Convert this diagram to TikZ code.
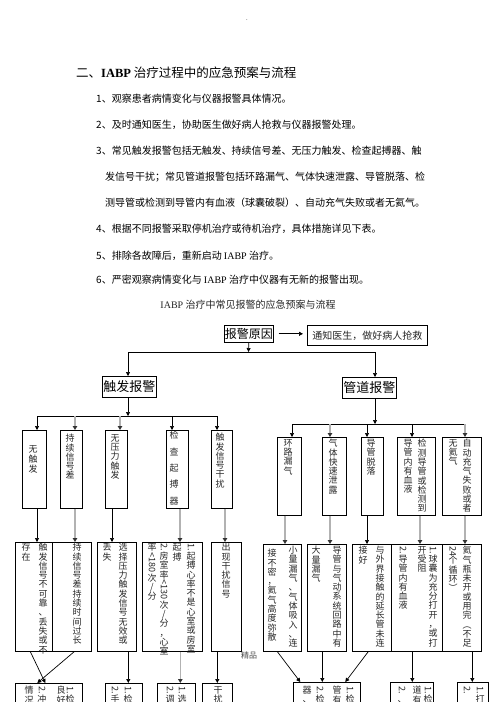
\documentclass[tikz,border=0pt]{standalone}
\usepackage{fontspec}
\setmainfont{Noto Sans CJK SC}
\newfontfamily\lat{Liberation Serif}
\usepackage{graphicx}
\usetikzlibrary{arrows.meta}

% one character per line, for the upright columns
\makeatletter
\def\vc@end{\vc@end}
\def\vc@endm{\vc@end}
\newcommand\vcol[1]{\vc@first#1\vc@end}
\def\vc@first#1{#1\vc@loop}
\def\vc@loop#1{\def\vc@tmp{#1}\ifx\vc@tmp\vc@endm\expandafter\@gobble\else\expandafter\@firstofone\fi{\\#1\vc@loop}}
\makeatother
\newcommand\rt[1]{\rotatebox[origin=c]{-90}{#1}}

\begin{document}
\begin{tikzpicture}[
  x=1pt, y=-1pt,
  sz/.style 2 args={minimum width=#1, minimum height=#2},
  box/.style={draw, line width=0.6pt, inner sep=0pt, anchor=north west},
  vt/.style={font=\fontsize{9}{9.3}\selectfont, align=center, inner sep=0pt, anchor=north, text=black!85},
  txt/.style={font=\fontsize{10}{12}\selectfont, anchor=west, inner sep=0pt},
  arr/.style={-{Triangle[length=4pt, width=4pt]}, line width=0.7pt},
  garr/.style={-{Triangle[length=4pt, width=4.5pt, color=black!80]}, line width=1.6pt, gray!60}
]
\useasboundingbox (0,0) rectangle (496,702);
\clip (0,0) rectangle (496,702);

% page text
\node[font=\fontsize{6}{6}\selectfont, inner sep=0pt] (dot) at (247,20) {.};
\node[font=\fontsize{12.5}{14}\selectfont, anchor=west, inner sep=0pt] (head) at (76,73) {二、{\lat\bfseries IABP} 治疗过程中的应急预案与流程};
\node[txt] (it1) at (96,99) {1、观察患者病情变化与仪器报警具体情况。};
\node[txt] (it2) at (96,125) {2、及时通知医生，协助医生做好病人抢救与仪器报警处理。};
\node[txt] (it3) at (96,151) {3、常见触发报警包括无触发、持续信号差、无压力触发、检查起搏器、触};
\node[txt] (it3b) at (105,177) {发信号干扰；常见管道报警包括环路漏气、气体快速泄露、导管脱落、检};
\node[txt] (it3c) at (105,203) {测导管或检测到导管内有血液（球囊破裂）、自动充气失败或者无氦气。};
\node[txt] (it4) at (96,229) {4、根据不同报警采取停机治疗或待机治疗，具体措施详见下表。};
\node[txt] (it5) at (96,256) {5、排除各故障后，重新启动 {\lat IABP} 治疗。};
\node[txt] (it6) at (96,280) {6、严密观察病情变化与 {\lat IABP} 治疗中仪器有无新的报警出现。};
\node[font=\fontsize{10}{12}\selectfont, inner sep=0pt, text=black!85] (cap) at (248,305) {{\lat IABP} 治疗中常见报警的应急预案与流程};

% head of the chart
\node[box, sz={49}{17}, font=\fontsize{12}{12}\selectfont] (cause) at (224,325) {报警原因};
\node[box, sz={120}{20}, font=\fontsize{10}{10}\selectfont, text=black!85] (notify) at (307,325) {通知医生，做好病人抢救};
\draw[arr, shorten <=5pt, shorten >=4pt] (cause.east) -- (cause.east -| notify.west);

\node[box, sz={54}{21}, font=\fontsize{13}{13}\selectfont] (trig) at (102,376) {触发报警};
\node[box, sz={54}{21}, font=\fontsize{13}{13}\selectfont] (pipe) at (342,377) {管道报警};

\coordinate (bus0) at (248.5,352);
\coordinate (busL) at (128,352);
\coordinate (busR) at (375,352);
\draw[arr] (cause.south) -- (bus0);
\draw[line width=0.7pt] (busL) -- (busR);
\draw[arr] (busL) -- (busL |- trig.north);
\draw[arr] (busR) -- (busR |- pipe.north);

% trigger alarms
\coordinate (lb) at (128,416);
\coordinate (lb1) at (37,416);
\coordinate (lb2) at (75,416);
\coordinate (lb3) at (120,416);
\coordinate (lb4) at (172,416);
\coordinate (lb5) at (217,416);
\draw[arr] (trig.south -| lb) -- (lb);
\draw[line width=0.7pt] (lb1) -- (lb5);

\node[box, sz={24}{78}] (nt) at (22,430) {};
\node[box, sz={22}{78}] (cx) at (60,430) {};
\node[box, sz={22}{78}] (yl) at (105,430) {};
\node[box, sz={22}{78}] (qb) at (166,430) {};
\node[box, sz={21}{78}] (gr) at (211,430) {};
\draw[arr] (lb1) -- (lb1 |- nt.north);
\draw[garr] (lb2) -- (lb2 |- cx.north);
\draw[garr] (lb3) -- (lb3 |- yl.north);
\draw[arr] (lb4) -- (lb4 |- qb.north);
\draw[arr] (lb5) -- (lb5 |- gr.north);

\node[vt, font=\fontsize{9}{10}\selectfont] (nt-t) at (33,445) {\vcol{无触发}};
\node[vt] (cx-t) at (70,434) {\vcol{持续信号差}};
\node[vt] (yl-t) at (115,434) {\vcol{无压力触发}};
\node[vt, font=\fontsize{9}{16.3}\selectfont] (qb-t) at (174,431) {\vcol{检查起搏器}};
\node[vt] (gr-t) at (220,433) {\vcol{触发信号干扰}};

% pipeline alarms
\coordinate (rb) at (375,424);
\coordinate (rb1) at (292,424);
\coordinate (rb2) at (330,424);
\coordinate (rb3) at (367,424);
\coordinate (rb4) at (412,424);
\coordinate (rb5) at (465,424);
\draw[arr] (pipe.south -| rb) -- (rb);
\draw[line width=0.7pt] (rb1) -- (rb5);

\node[box, sz={24}{78}] (hl) at (277,437) {};
\node[box, sz={24}{78}] (xl) at (322,437) {};
\node[box, sz={22}{78}] (tl) at (361,437) {};
\node[box, sz={38}{78}] (xy) at (397,437) {};
\node[box, sz={39}{78}] (cq) at (442,437) {};
\draw[arr] (rb1) -- (rb1 |- hl.north);
\draw[garr] (rb2) -- (rb2 |- xl.north);
\draw[arr] (rb3) -- (rb3 |- tl.north);
\draw[arr] (rb4) -- (rb4 |- xy.north);
\draw[garr] (rb5) -- (rb5 |- cq.north);

\node[vt] (hl-t) at (288,439) {\vcol{环路漏气}};
\node[vt] (xl-t) at (333,439) {\vcol{气体快速泄露}};
\node[vt] (tl-t) at (371,439) {\vcol{导管脱落}};
\node[vt] (xy-t1) at (422,439) {\vcol{检测导管或检测到}};
\node[vt] (xy-t2) at (408,439) {\vcol{导管内有血液}};
\node[vt] (cq-t1) at (467,439) {\vcol{自动充气失败或者}};
\node[vt] (cq-t2) at (453,439) {\vcol{无氦气}};

% causes, left
\node[box, sz={37}{109}] (d1) at (15,542) {};
\node[box, sz={39}{109}] (d2) at (52,542) {};
\node[box, sz={39}{109}] (d3) at (97,542) {};
\node[box, sz={60}{109}] (d4) at (142,542) {};
\node[box, sz={30}{109}] (d5) at (211,542) {};
\coordinate (k1) at (37,520);
\coordinate (k2) at (75,520);
\coordinate (k3) at (112,520);
\coordinate (k4) at (180,520);
\coordinate (k5) at (225,520);
\draw[arr] (nt.south -| k1) -- (d1.north -| k1);
\draw[garr] (cx.south -| k2) -- (d2.north -| k2);
\draw[arr] (yl.south -| k3) -- (d3.north -| k3);
\draw[garr] (qb.south -| k4) -- (d4.north -| k4);
\draw[garr] (gr.south -| k5) -- (d5.north -| k5);

\node[vt] (d1-t1) at (43,543) {\vcol{触发信号不可靠、丢失或不}};
\node[vt] (d1-t2) at (26,543) {\vcol{存在}};
\node[vt] (d2-t) at (77,543) {\vcol{持续信号差持续时间过长}};
\node[vt] (d3-t1) at (123,543) {\vcol{选择压力触发信号无效或}};
\node[vt] (d3-t2) at (107,543) {\vcol{丢失}};
\node[vt] (d4-t1) at (191,543) {\vcol{{\rt{1.}}起搏心率不是心室或房室}};
\node[vt] (d4-t2) at (177,543) {\vcol{起搏}};
\node[vt] (d4-t3) at (164,543) {\vcol{{\rt{2.}}房室率{\rt{<130}}次/分，心室}};
\node[vt] (d4-t4) at (152,543) {\vcol{率{\rt{<180}}次/分}};
\node[vt] (d5-t) at (226,543) {\vcol{出现干扰信号}};

\node[font=\fontsize{8}{8}\selectfont, text=black!70, inner sep=0pt] (jp) at (249,655) {精品};

% causes, right
\node[box, sz={38}{107}] (e1) at (263,544) {};
\node[box, sz={39}{107}] (e2) at (307,544) {};
\node[box, sz={39}{107}] (e3) at (352,544) {};
\node[box, sz={51}{107}] (e4) at (391,544) {};
\node[box, sz={39}{107}] (e5) at (442,544) {};
\coordinate (j1) at (285,530);
\coordinate (j2) at (330,530);
\coordinate (j3) at (367,530);
\coordinate (j4) at (420,530);
\coordinate (j5) at (465,530);
\draw[garr] (hl.south -| j1) -- (e1.north -| j1);
\draw[garr] (xl.south -| j2) -- (e2.north -| j2);
\draw[arr] (tl.south -| j3) -- (e3.north -| j3);
\draw[garr] (xy.south -| j4) -- (e4.north -| j4);
\draw[garr] (cq.south -| j5) -- (e5.north -| j5);

\node[vt] (e1-t1) at (293,546) {\vcol{小量漏气、气体吸入、连}};
\node[vt] (e1-t2) at (272,549) {\vcol{接不密，氦气高度弥散}};
\node[vt] (e2-t1) at (337,546) {\vcol{导管与气动系统回路中有}};
\node[vt] (e2-t2) at (316,546) {\vcol{大量漏气}};
\node[vt] (e3-t1) at (380,546) {\vcol{与外界接触的延长管未连}};
\node[vt] (e3-t2) at (363,546) {\vcol{接好}};
\node[vt] (e4-t1) at (433,546) {\vcol{{\rt{1.}}球囊为充分打开，或打}};
\node[vt] (e4-t2) at (422,546) {\vcol{开受阻}};
\node[vt] (e4-t3) at (403,546) {\vcol{{\rt{2.}}导管内有血液}};
\node[vt] (e5-t1) at (467,546) {\vcol{氦气瓶未开或用完︵不足}};
\node[vt] (e5-t2) at (453,546) {\vcol{{\rt{24}}个循环︶}};

% measures (cut by the page edge)
\node[box, sz={67}{40}] (f1) at (15,683) {};
\node[box, sz={37}{40}] (f2) at (105,683) {};
\node[box, sz={38}{40}] (f3) at (157,683) {};
\node[box, sz={30}{40}] (f4) at (202,683) {};
\node[box, sz={67}{40}] (g1) at (293,682) {};
\node[box, sz={43}{40}] (g2) at (390,682) {};
\node[box, sz={31}{40}] (g3) at (457,682) {};

\draw[arr] ([xshift=-3.5pt]d1.south) -- ([xshift=-3.5pt]f1.north);
\draw[arr] ([xshift=2.5pt]d2.south) -- ([xshift=-11.5pt]f1.north);
\draw[arr] ([xshift=11.5pt]d3.south) -- ([xshift=4.5pt]f2.north);
\draw[garr] ([xshift=8pt]d4.south) -- ([xshift=4pt]f3.north);
\draw[arr] ([xshift=-9pt]d5.south) -- (f4.north);
\draw[arr] ([xshift=-5pt]e1.south) -- ([xshift=-26.5pt]g1.north);
\draw[arr] ([xshift=-4.5pt]e2.south) -- ([xshift=-4.5pt]g1.north);
\draw[arr] ([xshift=-3.5pt]e3.south) -- ([xshift=18.5pt]g1.north);
\draw[arr] ([xshift=-4.5pt]e4.south) -- ([xshift=0.5pt]g2.north);
\draw[arr] ([xshift=10.5pt]e5.south) -- ([xshift=-0.5pt]g3.north);

\node[vt] (f1-t1) at (70,686) {\vcol{{\rt{1.}}检}};
\node[vt] (f1-t2) at (61,686) {\vcol{良好}};
\node[vt] (f1-t3) at (42,686) {\vcol{{\rt{2.}}冲}};
\node[vt] (f1-t4) at (29,686) {\vcol{情况}};
\node[vt] (f2-t1) at (128,686) {\vcol{{\rt{1.}}检}};
\node[vt] (f2-t2) at (115,686) {\vcol{{\rt{2.}}手}};
\node[vt] (f3-t1) at (182,686) {\vcol{{\rt{1.}}选}};
\node[vt] (f3-t2) at (170,686) {\vcol{{\rt{2.}}调}};
\node[vt] (f4-t) at (218,686) {\vcol{干扰}};
\node[vt] (g1-t1) at (350,686) {\vcol{{\rt{1.}}检}};
\node[vt] (g1-t2) at (337,686) {\vcol{管有}};
\node[vt] (g1-t3) at (320,686) {\vcol{{\rt{2.}}检}};
\node[vt] (g1-t4) at (307,686) {\vcol{器、}};
\node[vt] (g2-t1) at (428,686) {\vcol{{\rt{1.}}检}};
\node[vt] (g2-t2) at (417,686) {\vcol{道有}};
\node[vt] (g2-t3) at (402,686) {\vcol{{\rt{2.}}、}};
\node[vt] (g3-t1) at (480,686) {\vcol{{\rt{1.}}打}};
\node[vt] (g3-t2) at (467,686) {\vcol{{\rt{2.}}}};
\end{tikzpicture}
\end{document}
